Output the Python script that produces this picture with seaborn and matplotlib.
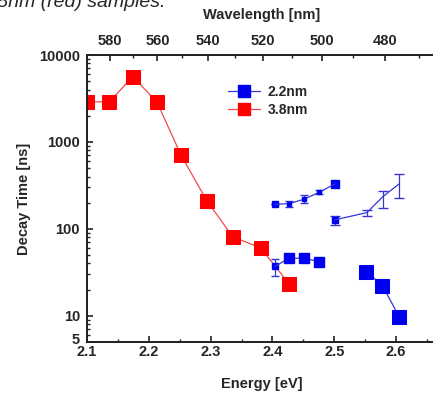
import numpy as np
import matplotlib
matplotlib.use("Agg")
import matplotlib.pyplot as plt
import matplotlib.transforms as mtransforms
import seaborn as sns
from matplotlib.lines import Line2D
from matplotlib.ticker import FixedLocator, NullFormatter, MultipleLocator, LogLocator, FormatStrFormatter

# 3.8nm sample (red)
red_energy = [2.100, 2.136, 2.174, 2.213, 2.252, 2.294, 2.336, 2.381, 2.427]
red_tau = [2900, 2880, 5630, 2900, 708, 210, 81, 60.5, 23.3]

# 2.2nm sample (blue), short component
blue_fast_energy = [2.404, 2.427, 2.451, 2.476]
blue_fast_tau = [37, 46, 46, 42]
blue_fast_lo = [8, 3, 2, 3]
blue_fast_hi = [8, 3, 2, 3]

blue_fast2_energy = [2.552, 2.578, 2.605]
blue_fast2_tau = [32.3, 22.3, 9.8]

# 2.2nm sample (blue), long component
blue_slow_energy = [2.404, 2.427, 2.451, 2.476, 2.501]
blue_slow_tau = [192, 195, 219, 264, 329]
blue_slow_lo = [0, 15, 22, 13, 0]
blue_slow_hi = [0, 15, 25, 16, 0]

blue_slow2_energy = [2.501, 2.553, 2.579, 2.605]
blue_slow2_tau = [127, 154, 236, 329]
blue_slow2_lo = [16, 12, 60, 105]
blue_slow2_hi = [15, 9, 37, 100]

wavelength_ticks = [580, 560, 540, 520, 500, 480]
wavelength_minor = [570, 550, 530, 510, 490, 470]
y_ticks = [5, 10, 100, 1000, 10000]

RED = "#ff0000"
RED_LINE = "#f04a4a"
BLUE = "#0000f0"
BLUE_LINE = "#3535d8"
HC = 1239.84  # eV*nm

sns.set_style("ticks")
plt.rcParams["font.family"] = ["Liberation Sans", "DejaVu Sans"]
plt.rcParams["font.weight"] = "bold"

fig = plt.figure(figsize=(4.33, 3.94), dpi=100)
W, H = 433, 394
x0, y_top, y_bot = 87, 55, 342
px_per_01 = 61.8
xmax = 2.665
ax = fig.add_axes([x0 / W, 1 - y_bot / H, (xmax - 2.1) / 0.1 * px_per_01 / W, (y_bot - y_top) / H])

# 3.8nm
sns.lineplot(x=red_energy, y=red_tau, ax=ax, color=RED_LINE, marker="s", markersize=10,
             markerfacecolor=RED, markeredgecolor=RED, linewidth=0.9, estimator=None, sort=False)

# 2.2nm short component
ax.errorbar(blue_fast_energy, blue_fast_tau, yerr=[blue_fast_lo, blue_fast_hi], fmt="s-",
            color=BLUE_LINE, mfc=BLUE, mec=BLUE, ms=7.5, lw=0.9, capsize=3, elinewidth=0.9,
            markevery=[1, 2, 3])
ax.plot(blue_fast_energy[:1], blue_fast_tau[:1], "s", color=BLUE, ms=5)
sns.lineplot(x=blue_fast2_energy, y=blue_fast2_tau, ax=ax, color=BLUE_LINE, marker="s", markersize=10,
             markerfacecolor=BLUE, markeredgecolor=BLUE, linewidth=0.9, estimator=None, sort=False)

# 2.2nm long component
ax.errorbar(blue_slow_energy, blue_slow_tau, yerr=[blue_slow_lo, blue_slow_hi], fmt="s-",
            color=BLUE_LINE, mfc=BLUE, mec=BLUE, ms=2.5, lw=0.9, capsize=3, elinewidth=0.9,
            markevery=[1, 2, 3])
ax.plot(blue_slow_energy[:1], blue_slow_tau[:1], "s", color=BLUE, ms=4)
ax.plot(blue_slow_energy[-1:], blue_slow_tau[-1:], "s", color=BLUE, ms=5.5)
ax.errorbar(blue_slow2_energy, blue_slow2_tau, yerr=[blue_slow2_lo, blue_slow2_hi], fmt="-",
            color=BLUE_LINE, lw=0.9, capsize=3.5, elinewidth=0.9)
ax.plot(blue_slow2_energy[:1], blue_slow2_tau[:1], "s", color=BLUE, ms=4.5)

ax.set_yscale("log")
ax.set_xlim(2.1, xmax)
ax.set_ylim(5, 10000)
ax.yaxis.set_major_locator(FixedLocator(y_ticks))
ax.set_yticklabels([str(t) for t in y_ticks])
ax.yaxis.set_minor_locator(LogLocator(base=10, subs=np.arange(2, 10)))
ax.yaxis.set_minor_formatter(NullFormatter())
ax.xaxis.set_major_locator(MultipleLocator(0.1))
ax.xaxis.set_minor_locator(MultipleLocator(0.05))
ax.xaxis.set_major_formatter(FormatStrFormatter("%.1f"))

for side in ["left", "bottom", "top", "right"]:
    ax.spines[side].set_linewidth(1.3)
    ax.spines[side].set_color("#222222")
ax.tick_params(which="major", direction="in", length=4, width=1.2, labelsize=10.5, color="#222222")
ax.tick_params(which="minor", direction="in", length=2.2, width=1.0, color="#222222")
ax.tick_params(axis="x", which="major", pad=2)
ax.tick_params(axis="y", which="major", pad=5)
ax.tick_params(top=False, right=False, which="both")
# the lowest y label sits a little above its tick, as in the original
lab5 = ax.yaxis.get_major_ticks()[0].label1
lab5.set_transform(lab5.get_transform() + mtransforms.ScaledTranslation(0, 3.5 / 100, fig.dpi_scale_trans))

ax.set_xlabel("Energy [eV]", fontsize=10.5, fontweight="bold", labelpad=13)
ax.set_ylabel("Decay Time [ns]", fontsize=10.5, fontweight="bold", labelpad=6)

# top wavelength axis
ax2 = ax.twiny()
ax2.set_xlim(ax.get_xlim())
ax2.set_xticks([HC / w for w in wavelength_ticks])
ax2.set_xticklabels([str(w) for w in wavelength_ticks])
ax2.set_xticks([HC / w for w in wavelength_minor], minor=True)
ax2.tick_params(which="major", direction="in", length=4, width=1.2, labelsize=10.5, pad=5, color="#222222")
ax2.tick_params(which="minor", direction="in", length=2.2, width=1.0, color="#222222")
ax2.set_xlabel("Wavelength [nm]", fontsize=10.5, fontweight="bold", labelpad=11)
for side in ["left", "bottom", "top", "right"]:
    ax2.spines[side].set_linewidth(1.3)
    ax2.spines[side].set_color("#222222")

handles = [
    Line2D([], [], color=BLUE_LINE, lw=0.9, marker="s", ms=8, mfc=BLUE, mec=BLUE),
    Line2D([], [], color=RED_LINE, lw=0.9, marker="s", ms=8, mfc=RED, mec=RED),
]
ax.legend(handles, ["2.2nm", "3.8nm"], loc="upper left", bbox_to_anchor=(0.404, 0.895),
          frameon=False, borderpad=0, borderaxespad=0, handlelength=2.3, handletextpad=0.55,
          labelspacing=0.25, prop={"size": 10, "weight": "bold"})

# cut-off caption line from the surrounding page
fig.text(165 / W, 1 - 7 / H, "3.8nm (red) samples.", ha="right", va="baseline",
         fontsize=14, style="italic", fontweight="normal")

fig.savefig("out.png", dpi=100)
